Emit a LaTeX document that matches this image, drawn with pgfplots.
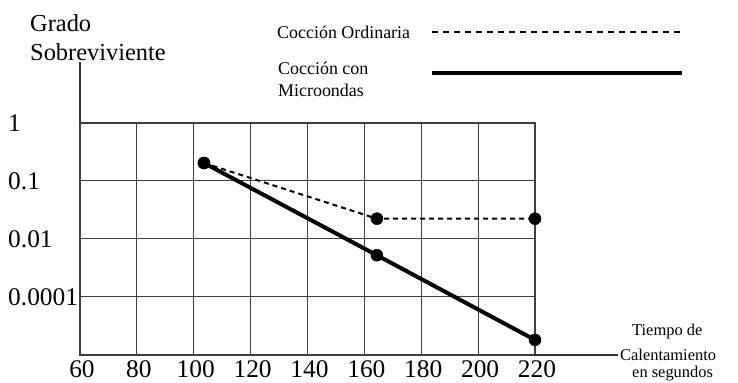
\documentclass[border=0pt]{standalone}
\usepackage{fontspec}
\setmainfont{Liberation Serif}
\usepackage{pgfplots}
\pgfplotsset{compat=1.18}
\begin{document}
\begin{tikzpicture}
\useasboundingbox (-80bp,-28bp) rectangle (658bp,355bp);
\begin{axis}[
  at={(0,0)}, anchor=south west,
  scale only axis, width=455bp, height=232bp,
  xmin=60, xmax=220, ymin=0, ymax=4,
  xtick={60,80,...,220},
  ytick={1,2,3,4},
  yticklabels={0.0001,0.01,0.1,1},
  grid=major,
  major grid style={black!75, line width=1bp},
  axis line style={black!75, line width=1.1bp},
  major tick length=0pt,
  /pgf/number format/assume math mode=true,
  ticklabel style={font=\fontsize{25.5}{29}\selectfont, inner sep=0pt},
  xticklabel style={anchor=center, yshift=-14bp, xshift=2bp},
  yticklabel style={anchor=west, xshift=-72bp},
  clip=false,
]
\addplot[black, line width=2bp, dash pattern=on 5bp off 4bp, mark=*, mark size=6bp, mark options={solid, line width=0.5bp}]
  coordinates {(103.6,3.31) (164.4,2.35) (220,2.35)};
\addplot[black, line width=4bp, mark=*, mark size=6bp, mark options={line width=0.5bp}]
  coordinates {(103.6,3.31) (164.4,1.72) (220,0.26)};
\end{axis}
% axis extensions
\draw[black!80, line width=1.1bp] (0,232bp) -- (0,293bp);
\draw[black!80, line width=1.1bp] (455bp,0) -- (538bp,0);
% y title
\node[anchor=west, inner sep=0, font=\fontsize{24.5}{28}\selectfont] at (-50bp,332bp) {Grado};
\node[anchor=west, inner sep=0, font=\fontsize{24.5}{28}\selectfont] at (-50bp,303bp) {Sobreviviente};
% x title
\node[anchor=west, inner sep=0, font=\fontsize{16.5}{19}\selectfont] at (552bp,23bp) {Tiempo de};
\node[anchor=west, inner sep=0, font=\fontsize{16.5}{19}\selectfont] at (540bp,0bp) {Calentamiento};
\node[anchor=west, inner sep=0, font=\fontsize{16.5}{19}\selectfont] at (552bp,-19bp) {en segundos};
% legend
\node[anchor=west, inner sep=0, font=\fontsize{18}{21}\selectfont] at (197bp,323bp) {Cocción Ordinaria};
\draw[black, line width=1.8bp, dash pattern=on 6bp off 5bp] (352bp,323bp) -- (602bp,323bp);
\node[anchor=west, inner sep=0, font=\fontsize{18}{21}\selectfont] at (198bp,287bp) {Cocción con};
\node[anchor=west, inner sep=0, font=\fontsize{18}{21}\selectfont] at (198bp,265bp) {Microondas};
\draw[black, line width=3.5bp] (352bp,282bp) -- (602bp,282bp);
\end{tikzpicture}
\end{document}
